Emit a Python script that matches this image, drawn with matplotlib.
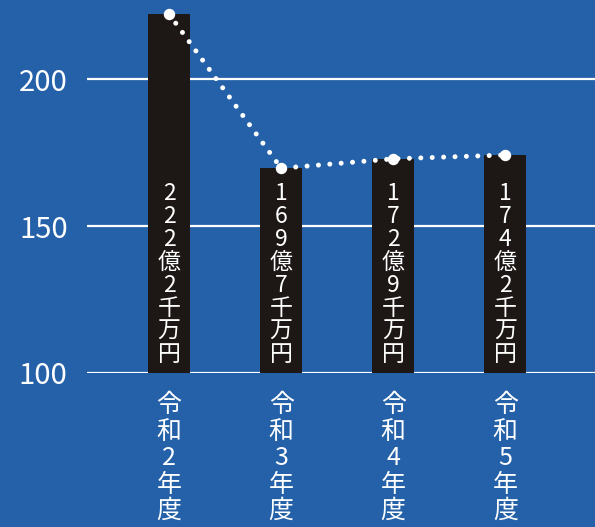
import matplotlib
matplotlib.use('Agg')
import matplotlib.pyplot as plt

plt.rcParams['font.family'] = ['Noto Sans CJK JP', 'DejaVu Sans']

# data
years = ['令和2年度', '令和3年度', '令和4年度', '令和5年度']
values = [222.2, 169.7, 172.9, 174.2]  # 億円
value_labels = ['222億2千万円', '169億7千万円', '172億9千万円', '174億2千万円']
yticks = [100, 150, 200]

bg = '#2461a9'
bar_color = '#1d1816'

fig = plt.figure(figsize=(5.95, 5.27), dpi=100, facecolor=bg)
ax = fig.add_axes([87 / 595, (527 - 373) / 527, 508 / 595, 373 / 527])
ax.set_facecolor(bg)

x = list(range(len(years)))
ax.bar(x, [v - 100 for v in values], bottom=100, width=0.375, color=bar_color, zorder=2)

# dotted trend line with dots on the bar tops
ax.plot(x, values, color='white', lw=3.6, ls=(0, (0.001, 2.28)),
        dash_capstyle='round', zorder=3, clip_on=False)
ax.plot(x, values, 'o', color='white', ms=7.2, zorder=4, clip_on=False)

# vertical labels inside the bars
for xi, lab in zip(x, value_labels):
    ax.annotate('\n'.join(lab), (xi, 100), xytext=(0, 5), textcoords='offset points',
                ha='center', va='bottom', color='white', fontsize=16.5, linespacing=1.0)

ax.set_xlim(-0.732, 3.8)
ax.set_ylim(100, 226.96)
ax.set_yticks(yticks)
ax.set_yticklabels([str(t) for t in yticks], color='white', fontsize=21)
ax.set_xticks(x)
ax.set_xticklabels(['\n'.join(y) for y in years], color='white', fontsize=18,
                   va='top', linespacing=1.02)
ax.tick_params(axis='y', length=0, pad=14)
ax.tick_params(axis='x', length=0, pad=14)
ax.grid(axis='y', color='white', lw=1.6)
ax.set_axisbelow(True)
for s in ax.spines.values():
    s.set_visible(False)

fig.savefig('out.png', dpi=100, facecolor=bg)
